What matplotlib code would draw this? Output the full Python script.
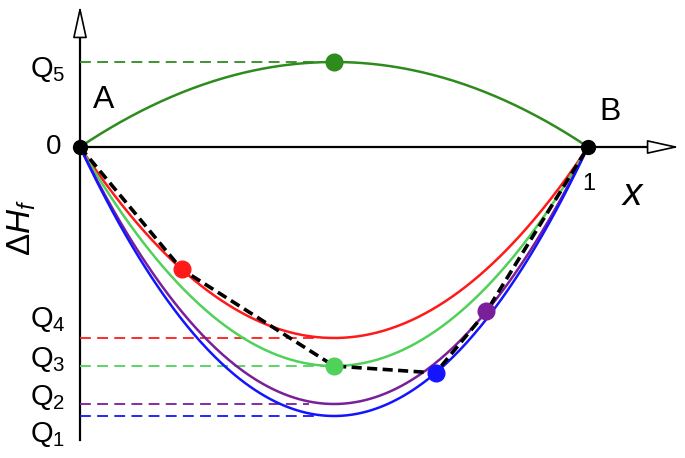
import numpy as np
import matplotlib
matplotlib.use("Agg")
import matplotlib.pyplot as plt

plt.rcParams['font.family'] = ['Liberation Sans', 'DejaVu Sans']
plt.rcParams['mathtext.fontset'] = 'custom'
plt.rcParams['mathtext.rm'] = 'Liberation Sans'
plt.rcParams['mathtext.it'] = 'Liberation Sans:italic'

# depths of the curves (minimum value at x = 0.5)
curve_names = ['Q5', 'Q4', 'Q3', 'Q2', 'Q1']
curve_depth = [0.85, -1.91, -2.19, -2.57, -2.69]
curve_colors = ['#2e8b1e', '#ff1a1a', '#4fd15a', '#7a1f9a', '#1414ff']

# marked points on each curve (x position)
dot_x = [0.5, 0.2, 0.5, 0.8, 0.7]

# ends of the reference dashed lines along x
ref_end = [0.5, 0.46, 0.5, 0.45, 0.46]

# order of the dashed black tie line (index into curves)
hull_order = [1, 2, 4, 3]


def parab(d, x):
    return 4 * d * x * (1 - x)


# pixel mapping: x 0..1 -> px 80..588, y unit -> 100 px, 0 at py 147
W, H = 685, 458
x0, x1, y0, sy = 80, 588, 147, 100.0
sx = x1 - x0

fig = plt.figure(figsize=(W / 100, H / 100), dpi=100)
ax = fig.add_axes([0, 0, 1, 1])
ax.set_xlim(-x0 / sx, (W - x0) / sx)
ax.set_ylim((y0 - H) / sy, y0 / sy)
ax.axis('off')


def px(p):
    return (p - x0) / sx


def py(p):
    return (y0 - p) / sy


# axes
head = dict(arrowstyle='-|>,head_length=1.0,head_width=0.22',
            fc='white', ec='black', lw=1.2, mutation_scale=20)
ax.plot([0, 0], [py(440), py(26)], color='black', lw=1.6, zorder=2)
ax.annotate('', xy=(0, py(3)), xytext=(0, py(28)), arrowprops=head)
ax.plot([0, px(660)], [0, 0], color='black', lw=1.6, zorder=2)
ax.annotate('', xy=(px(682), 0), xytext=(px(657), 0), arrowprops=head)

xs = np.linspace(0, 1, 300)
for d, c, xe in zip(curve_depth, curve_colors, ref_end):
    ax.plot(xs, parab(d, xs), color=c, lw=1.8, zorder=3)
    ax.plot([0, xe], [d, d], color=c, lw=1.3, dashes=(6, 3.5), zorder=2)

# dashed black line through A, the dots and B
hx = [0] + [dot_x[i] for i in hull_order] + [1]
hy = [0] + [parab(curve_depth[i], dot_x[i]) for i in hull_order] + [0]
ax.plot(hx, hy, color='black', lw=2.6, dashes=(2.8, 1.5), zorder=4)

for d, c, xd in zip(curve_depth, curve_colors, dot_x):
    ax.plot(xd, parab(d, xd), 'o', color=c, ms=12, zorder=5)

ax.plot([0, 1], [0, 0], 'o', color='black', ms=10, zorder=6)

# labels
q_base = [77, 327, 367, 405, 442]
for name, b in zip(curve_names, q_base):
    ax.text(px(30), py(b), r'$\mathrm{Q}_{%s}$' % name[1], fontsize=21,
            ha='left', va='baseline')

ax.text(px(104), py(100), 'A', fontsize=23, ha='center', va='center')
ax.text(px(610), py(112), 'B', fontsize=23, ha='center', va='center')
ax.text(px(54), py(147), '0', fontsize=20, ha='center', va='center')
ax.text(px(589), py(184), '1', fontsize=17, ha='center', va='center')
ax.text(px(632), py(195), 'x', fontsize=28, style='italic', ha='center', va='center')
ax.text(px(22), py(228), r'$\Delta \mathit{H}_{\mathit{f}}$', fontsize=24,
        rotation=90, ha='center', va='center')

fig.savefig('out.png', dpi=100)
